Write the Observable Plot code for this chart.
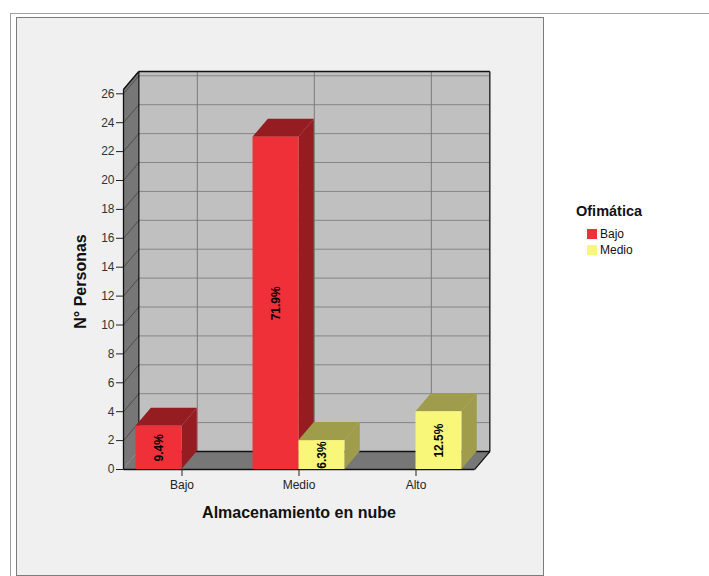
<!DOCTYPE html>
<html>
<head>
<meta charset="utf-8">
<script src="https://cdn.jsdelivr.net/npm/d3@7"></script>
<script src="https://cdn.jsdelivr.net/npm/@observablehq/plot@0.6"></script>
<style>
  body { margin: 0; background: #ffffff; }
  #wrap { position: relative; width: 709px; height: 576px; overflow: hidden; font-family: "Liberation Sans", Arial, sans-serif; }
  #outer { position: absolute; left: 10px; top: 13px; width: 710px; height: 580px; border-left: 1px solid #a0a0a0; border-top: 1px solid #a0a0a0; }
  #panel { position: absolute; left: 16px; top: 17px; width: 526px; height: 557px; background: #f0f0f0; border: 1px solid #7c7c7c; }
  #chart { position: absolute; left: 0; top: 0; }
  #chart svg { background: transparent; }
  .lg-title { position: absolute; left: 576px; top: 203px; font-size: 14.5px; font-weight: bold; color: #111; }
  .lg-item { position: absolute; left: 587px; font-size: 12px; color: #111; line-height: 11px; }
  .lg-item span.sw { display: inline-block; width: 10px; height: 10px; vertical-align: top; margin-right: 3px; }
</style>
</head>
<body>
<div id="wrap">
  <div id="outer"></div>
  <div id="panel"></div>
  <div id="chart"></div>
  <div id="legend"></div>
</div>
<script>
// Categories on the x axis and the two Ofimática levels
const categories = ["Bajo", "Medio", "Alto"];
const seriesNames = ["Bajo", "Medio"];
// Number of persons per category for each series
const bajoCounts = [3, 23, 0];
const medioCounts = [0, 2, 4];
const yTicks = [0, 2, 4, 6, 8, 10, 12, 14, 16, 18, 20, 22, 24, 26];
const xTitle = "Almacenamiento en nube";
const yTitle = "N° Personas";
const legendTitle = "Ofimática";

// Face colours: front, and the shaded top/side
const frontColors = ["#ef3039", "#f9f77a"];
const shadeColors = ["#951d22", "#9f9d4b"];

// 3D geometry (category units on x, count units on y)
const BAR_W = 0.393;   // bar width
const DX = 0.131;      // depth shift along x
const DY = 1.245;      // depth shift along y
const TOP = 26.3;      // wall height
const N = categories.length;

const total = d3.sum(bajoCounts) + d3.sum(medioCounts);
const countsBySeries = [bajoCounts, medioCounts];

const bars = [];
categories.forEach((cat, i) => {
  countsBySeries.forEach((counts, s) => {
    const v = counts[i];
    if (v > 0) {
      const x1 = i + 0.5 - BAR_W + s * BAR_W;
      bars.push({
        id: `${cat}-${seriesNames[s]}`, cat, series: seriesNames[s], v,
        x1, x2: x1 + BAR_W,
        front: frontColors[s], shade: shadeColors[s],
        label: (v / total * 100).toFixed(1) + "%"
      });
    }
  });
});

const sidePts = bars.flatMap(b => [
  {id: b.id, shade: b.shade, x: b.x2, y1: 0, y2: b.v},
  {id: b.id, shade: b.shade, x: b.x2 + DX, y1: DY, y2: b.v + DY}
]);
const topPts = bars.flatMap(b => [
  {id: b.id, shade: b.shade, y: b.v, x1: b.x1, x2: b.x2},
  {id: b.id, shade: b.shade, y: b.v + DY, x1: b.x1 + DX, x2: b.x2 + DX}
]);

const leftWall = [{x: 0, y1: 0, y2: TOP}, {x: DX, y1: DY, y2: TOP + DY}];
const floor = [{y: 0, x1: 0, x2: N}, {y: DY, x1: DX, x2: N + DX}];
const edges = [
  {x1: 0, y1: 0, x2: 0, y2: TOP},
  {x1: 0, y1: TOP, x2: DX, y2: TOP + DY},
  {x1: DX, y1: TOP + DY, x2: N + DX, y2: TOP + DY},
  {x1: N + DX, y1: TOP + DY, x2: N + DX, y2: DY},
  {x1: DX, y1: DY, x2: DX, y2: TOP + DY},
  {x1: DX, y1: DY, x2: N + DX, y2: DY},
  {x1: N + DX, y1: DY, x2: N, y2: 0},
  {x1: 0, y1: 0, x2: N, y2: 0}
];
const catCenters = categories.map((c, i) => i + 0.5);

const chart = Plot.plot({
  width: 709,
  height: 576,
  marginLeft: 123,
  marginRight: 220,
  marginTop: 71,
  marginBottom: 107,
  style: {background: "transparent", fontFamily: "Liberation Sans, Arial, sans-serif"},
  x: {domain: [0, N + DX], range: [123, 123 + 117 * (N + DX)], axis: null},
  y: {domain: [0, TOP + DY], range: [469, 469 - 14.45 * (TOP + DY)], axis: null},
  color: {type: "identity"},
  marks: [
    // back wall and its grid
    Plot.rect([0], {x1: DX, x2: N + DX, y1: DY, y2: TOP + DY, fill: "#c0c0c0"}),
    Plot.ruleY(yTicks, {y: d => d + DY, x1: DX, x2: N + DX, stroke: "#858585", strokeWidth: 1}),
    Plot.ruleX(catCenters, {x: d => d + DX, y1: DY, y2: TOP + DY, stroke: "#7a7a7a", strokeWidth: 1}),
    // left wall and floor
    Plot.areaY(leftWall, {x: "x", y1: "y1", y2: "y2", fill: "#777777"}),
    Plot.link(yTicks, {x1: 0, y1: d => d, x2: DX, y2: d => d + DY, stroke: "#4e4e4e", strokeWidth: 1}),
    Plot.areaX(floor, {y: "y", x1: "x1", x2: "x2", fill: "#777777"}),
    Plot.link(edges, {x1: "x1", y1: "y1", x2: "x2", y2: "y2", stroke: "#111", strokeWidth: 1.3}),
    // bars: side, top, front
    Plot.areaY(sidePts, {x: "x", y1: "y1", y2: "y2", z: "id", fill: "shade"}),
    Plot.areaX(topPts, {y: "y", x1: "x1", x2: "x2", z: "id", fill: "shade"}),
    Plot.rect(bars, {x1: "x1", x2: "x2", y1: 0, y2: "v", fill: "front"}),
    Plot.text(bars, {
      x: d => (d.x1 + d.x2) / 2, y: d => d.v / 2, text: "label",
      rotate: -90, fontSize: 12, fontWeight: "bold", fill: "#000"
    }),
    // axes
    Plot.axisY(yTicks, {
      anchor: "left", tickSize: 7, tickPadding: 2, fontSize: 12,
      stroke: "#222", fill: "#333", label: null
    }),
    Plot.axisX(catCenters, {
      anchor: "bottom", tickSize: 7, tickPadding: 4, fontSize: 12,
      stroke: "#222", fill: "#222", label: null,
      tickFormat: d => categories[Math.floor(d)]
    }),
    Plot.text([xTitle], {
      x: N / 2, y: 0, dy: 43, text: d => d,
      fontSize: 16, fontWeight: "bold", fill: "#111"
    }),
    // y title centred on the front axis
    Plot.text([yTitle], {
      x: 0, y: TOP / 2, dx: -43, dy: 2, text: d => d, rotate: -90,
      fontSize: 16, fontWeight: "bold", fill: "#111"
    })
  ]
});
document.getElementById("chart").appendChild(chart);

// Legend
const legend = document.getElementById("legend");
const t = document.createElement("div");
t.className = "lg-title";
t.textContent = legendTitle;
legend.appendChild(t);
seriesNames.forEach((name, s) => {
  const item = document.createElement("div");
  item.className = "lg-item";
  item.style.top = (229 + s * 15.5) + "px";
  item.innerHTML = `<span class="sw" style="background:${frontColors[s]}"></span>${name}`;
  legend.appendChild(item);
});
</script>
</body>
</html>
